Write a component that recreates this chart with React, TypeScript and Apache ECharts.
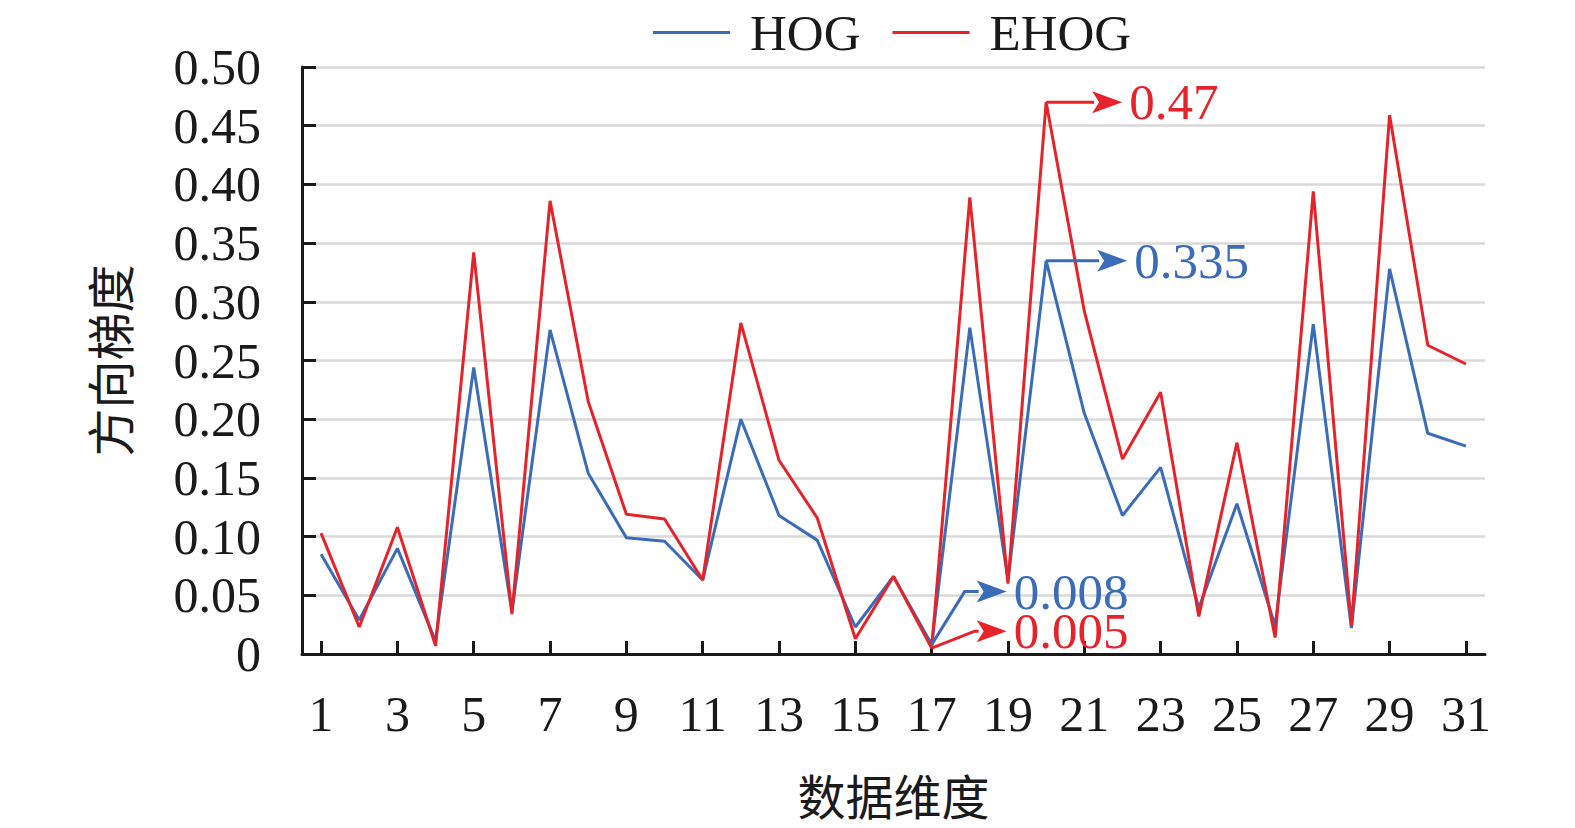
import React, { useEffect, useRef } from "react";
import * as echarts from "echarts";

const categories = ["1","2","3","4","5","6","7","8","9","10","11","12","13","14","15","16","17","18","19","20","21","22","23","24","25","26","27","28","29","30","31"];
const hogValues = [0.085, 0.029, 0.090, 0.011, 0.244, 0.036, 0.276, 0.154, 0.099, 0.096, 0.063, 0.200, 0.118, 0.097, 0.023, 0.066, 0.008, 0.278, 0.063, 0.335, 0.205, 0.118, 0.159, 0.039, 0.128, 0.024, 0.281, 0.022, 0.328, 0.188, 0.177];
const ehogValues = [0.103, 0.023, 0.108, 0.007, 0.342, 0.034, 0.386, 0.215, 0.119, 0.115, 0.063, 0.282, 0.165, 0.116, 0.013, 0.066, 0.005, 0.389, 0.060, 0.470, 0.292, 0.166, 0.223, 0.032, 0.180, 0.014, 0.394, 0.024, 0.459, 0.263, 0.247];
const seriesNames = ["HOG", "EHOG"];
const yAxisName = "方向梯度";
const xAxisName = "数据维度";
// annotated points: [series index, category index, label]
const annotations: [number, number, string][] = [
  [1, 19, "0.47"],
  [0, 19, "0.335"],
  [0, 16, "0.008"],
  [1, 16, "0.005"],
];

const BLUE = "#3a6cb8";
const RED = "#e6232b";
const FONT = '"Liberation Serif", "Times New Roman", "Noto Sans CJK SC", serif';
const CJK = '"Noto Sans CJK SC", sans-serif';

export default function App() {
  const ref = useRef<HTMLDivElement>(null);
  useEffect(() => {
    document.body.style.margin = "0";
    const chart = echarts.init(ref.current!, null, { renderer: "svg" });
    const option: any = {
      animation: false,
      backgroundColor: "#ffffff",
      textStyle: { fontFamily: FONT },
      legend: {
        left: 648,
        top: 2,
        icon: "rect",
        itemWidth: 77,
        itemHeight: 3,
        itemGap: 32,
        textStyle: { fontFamily: FONT, fontSize: 51, color: "#1a1a1a", padding: [0, 0, 0, 15] },
        data: seriesNames,
      },
      grid: { left: 302, right: 90, top: 67, bottom: 174, containLabel: false },
      xAxis: {
        type: "category",
        data: categories,
        boundaryGap: true,
        name: xAxisName,
        nameLocation: "middle",
        nameGap: 116,
        nameTextStyle: { fontFamily: CJK, fontSize: 48, color: "#1a1a1a" },
        axisLine: { lineStyle: { color: "#1a1a1a", width: 3 } },
        axisTick: { show: true, inside: true, length: 13, alignWithLabel: true, interval: 1, lineStyle: { color: "#1a1a1a", width: 3 } },
        axisLabel: { interval: 1, fontFamily: FONT, fontSize: 50, color: "#1a1a1a", margin: 35 },
        splitLine: { show: false },
      },
      yAxis: {
        type: "value",
        min: 0,
        max: 0.5,
        interval: 0.05,
        name: yAxisName,
        nameLocation: "middle",
        nameGap: 170,
        nameRotate: 90,
        nameTextStyle: { fontFamily: CJK, fontSize: 48, color: "#1a1a1a" },
        axisLine: { show: true, lineStyle: { color: "#1a1a1a", width: 3 } },
        axisTick: { show: true, inside: true, length: 14, lineStyle: { color: "#1a1a1a", width: 3 } },
        axisLabel: {
          fontFamily: FONT,
          fontSize: 50,
          color: "#1a1a1a",
          margin: 41,
          formatter: (v: number) => (Math.abs(v) < 1e-9 ? "0" : v.toFixed(2)),
        },
        splitLine: { show: true, lineStyle: { color: "#d9d9d9", width: 2.5 } },
      },
      series: [
        {
          name: seriesNames[0],
          type: "line",
          data: hogValues,
          symbol: "none",
          lineStyle: { color: BLUE, width: 3 },
          itemStyle: { color: BLUE },
          z: 2,
        },
        {
          name: seriesNames[1],
          type: "line",
          data: ehogValues,
          symbol: "none",
          lineStyle: { color: RED, width: 3 },
          itemStyle: { color: RED },
          z: 3,
        },
      ],
    };
    chart.setOption(option);

    const seriesData = [hogValues, ehogValues];
    const colors = [BLUE, RED];
    // bend offsets [dx, dy] from the point, shaft length after the bend
    const geometry: [number, number, number][] = [
      [0, 0, 76],
      [0, 0, 81],
      [33, -53, 42],
      [43, -17, 32],
    ];
    const graphics: any[] = [];
    annotations.forEach(([si, ci, label], k) => {
      const v = seriesData[si][ci];
      const p = chart.convertToPixel({ xAxisIndex: 0, yAxisIndex: 0 }, [ci, v]) as number[];
      const [dx, dy, len] = geometry[k];
      const bx = p[0] + dx;
      const by = p[1] + dy;
      const tipX = bx + len;
      const headL = 30;
      const headW = 11;
      const c = colors[si];
      const pts = dx === 0 && dy === 0 ? [[p[0], p[1]], [tipX - headL + 2, by]] : [[p[0], p[1]], [bx, by], [tipX - headL + 2, by]];
      graphics.push({
        type: "polyline",
        z: 100,
        shape: { points: pts },
        style: { stroke: c, lineWidth: 3, fill: null },
      });
      graphics.push({
        type: "polygon",
        z: 100,
        shape: { points: [[tipX, by], [tipX - headL, by - headW], [tipX - headL + 7, by], [tipX - headL, by + headW]] },
        style: { fill: c },
      });
      graphics.push({
        type: "text",
        z: 100,
        x: tipX + 7,
        y: by,
        style: {
          text: label,
          fill: c,
          fontFamily: FONT,
          fontSize: 51,
          verticalAlign: "middle",
          align: "left",
        },
      });
    });
    chart.setOption({ graphic: graphics });

    return () => chart.dispose();
  }, []);
  return <div ref={ref} style={{ width: 1575, height: 828 }} />;
}
